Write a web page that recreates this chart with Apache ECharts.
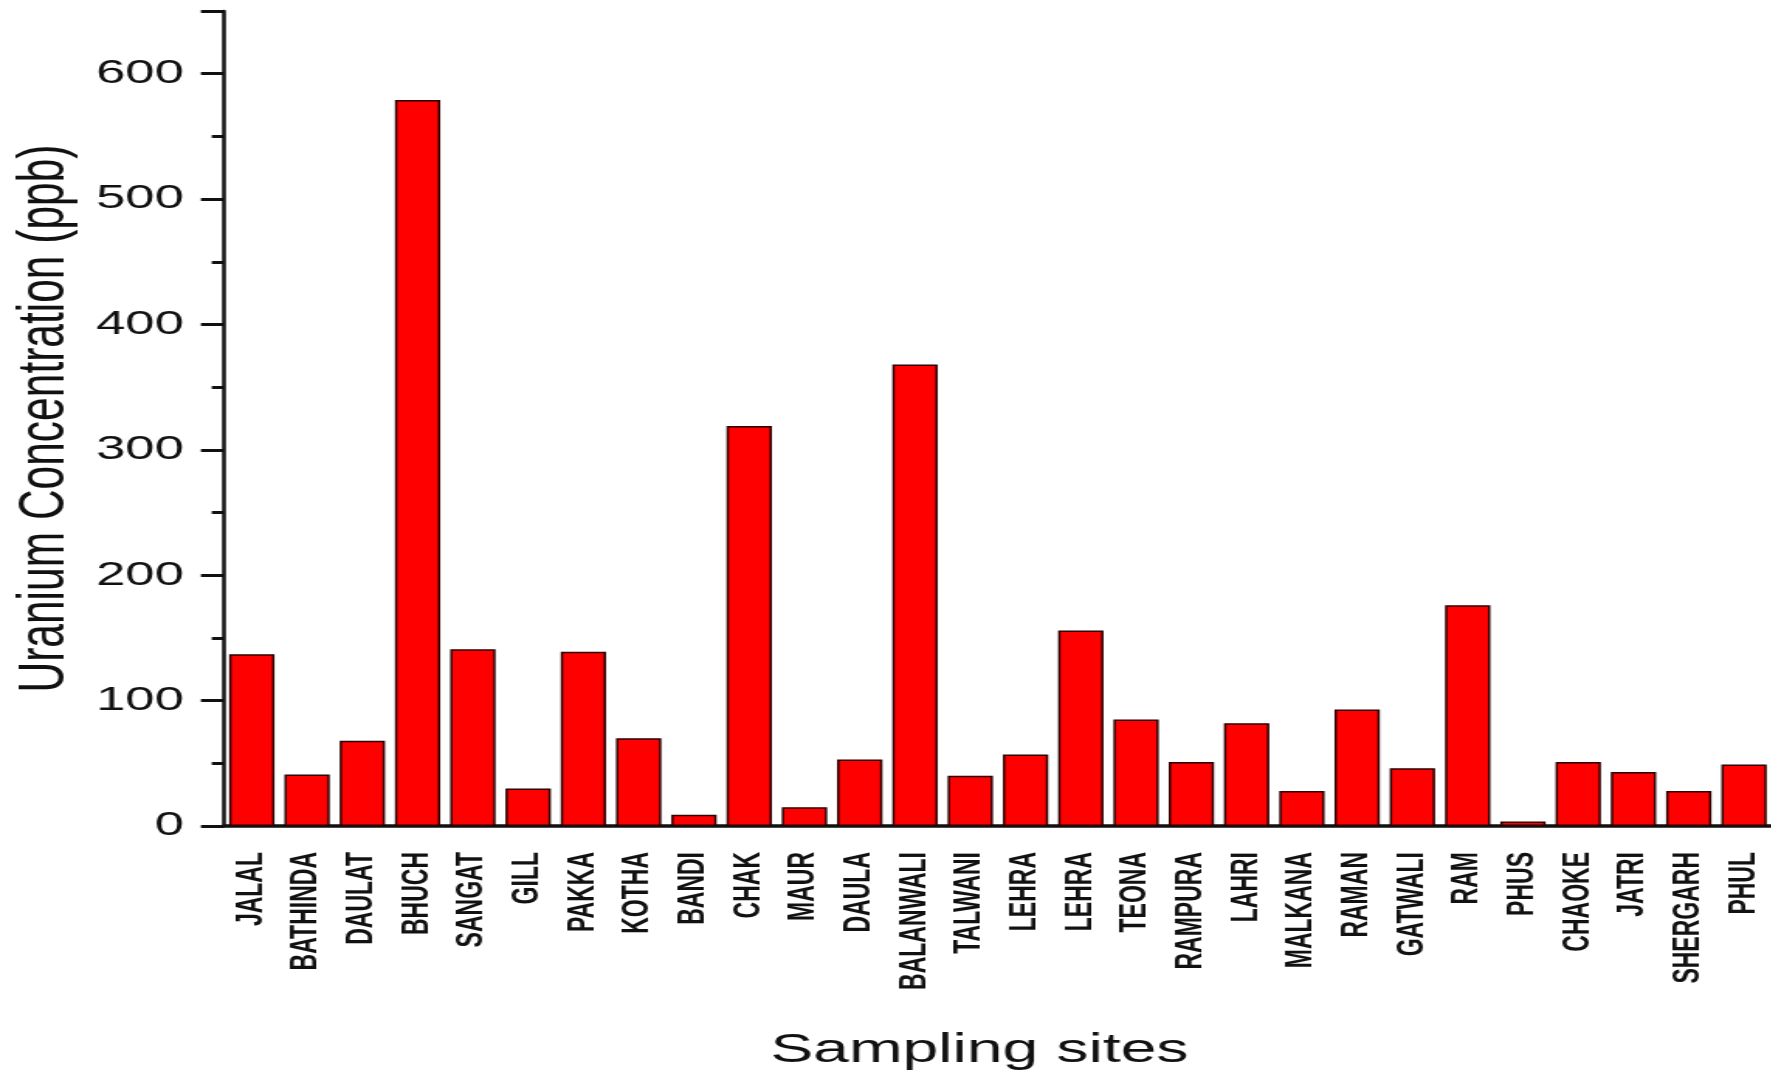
<!DOCTYPE html>
<html>
<head>
<meta charset="utf-8">
<title>Uranium Concentration</title>
<script src="https://cdn.jsdelivr.net/npm/echarts@6/dist/echarts.min.js"></script>
<style>
  html, body { margin: 0; padding: 0; background: #fff; overflow: hidden; }
  /* the source figure is stretched sideways, so the chart is drawn narrow and widened */
  #chart { width: 1143px; height: 1077px; transform: scaleX(1.55); transform-origin: 0 0; }
</style>
</head>
<body>
<div id="chart"></div>
<script>
"use strict";

// sampling sites, left to right
var sites = ['JALAL', 'BATHINDA', 'DAULAT', 'BHUCH', 'SANGAT', 'GILL', 'PAKKA', 'KOTHA',
	'BANDI', 'CHAK', 'MAUR', 'DAULA', 'BALANWALI', 'TALWANI', 'LEHRA', 'LEHRA', 'TEONA',
	'RAMPURA', 'LAHRI', 'MALKANA', 'RAMAN', 'GATWALI', 'RAM', 'PHUS', 'CHAOKE', 'JATRI',
	'SHERGARH', 'PHUL'];

// uranium (ppb)
var uranium = [137, 41, 68, 579, 141, 30, 139, 70,
	9, 319, 15, 53, 368, 40, 57, 156, 85,
	51, 82, 28, 93, 46, 176, 3.5, 51, 43,
	28, 49];

var yTicks = [0, 100, 200, 300, 400, 500, 600];

var ink = '#111';
var myChart = echarts.init(document.getElementById('chart'));

var option = {
	backgroundColor: '#fff',
	animation: false,
	grid: {
		left: 144.5,
		right: 0,
		top: 11,
		bottom: 251
	},
	xAxis: [{
		type: 'category',
		data: sites,
		name: 'Sampling sites',
		nameLocation: 'middle',
		nameGap: 204,
		nameTextStyle: {
			fontFamily: 'Liberation Sans',
			fontSize: 41.5,
			color: ink,
			padding: [0, 24, 0, 0]
		},
		axisLine: { lineStyle: { color: ink, width: 3.5 } },
		axisTick: { alignWithLabel: true, interval: 0, length: 16, lineStyle: { color: ink, width: 2 } },
		axisLabel: {
			interval: 0,
			rotate: 90,
			margin: 26,
			fontFamily: 'Liberation Sans',
			fontWeight: 'bold',
			fontSize: 23,
			color: ink
		},
		splitLine: { show: false }
	}, {
		// short ticks on the category boundaries
		type: 'category',
		data: sites,
		position: 'bottom',
		axisLine: { show: false },
		axisTick: { alignWithLabel: false, interval: 0, length: 8, lineStyle: { color: ink, width: 2 } },
		axisLabel: { show: false },
		splitLine: { show: false }
	}],
	yAxis: [{
		type: 'value',
		min: 0,
		max: 650,
		interval: 100,
		name: 'Uranium Concentration (ppb)',
		nameLocation: 'middle',
		nameRotate: 90,
		nameGap: 77,
		nameTextStyle: {
			fontFamily: 'Liberation Sans',
			fontSize: 42.5,
			color: ink
		},
		axisLine: { show: true, lineStyle: { color: ink, width: 2.5 } },
		axisTick: { show: true, length: 15, lineStyle: { color: ink, width: 3 } },
		axisLabel: {
			margin: 26,
			fontFamily: 'Liberation Sans',
			fontSize: 34,
			color: ink,
			formatter: function (v) {
				return yTicks.indexOf(v) >= 0 ? String(v) : '';
			}
		},
		splitLine: { show: false }
	}, {
		// half-step ticks
		type: 'value',
		min: 0,
		max: 650,
		interval: 50,
		position: 'left',
		axisLine: { show: false },
		axisTick: { show: true, length: 8, lineStyle: { color: ink, width: 3 } },
		axisLabel: { show: false },
		splitLine: { show: false }
	}],
	series: [{
		name: 'Uranium',
		type: 'bar',
		xAxisIndex: 0,
		yAxisIndex: 0,
		data: uranium,
		barCategoryGap: '18%',
		itemStyle: {
			color: '#ff0000',
			borderColor: '#2a0000',
			borderWidth: 1.5
		}
	}]
};

myChart.setOption(option);
</script>
</body>
</html>
